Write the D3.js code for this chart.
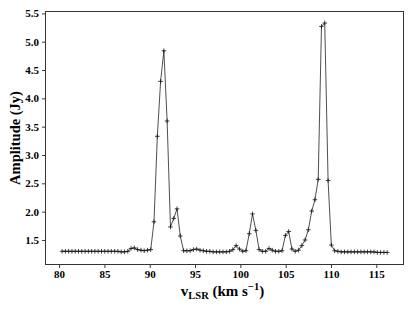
<!DOCTYPE html>
<html>
<head>
<meta charset="utf-8">
<script src="https://cdn.jsdelivr.net/npm/d3@7"></script>
<style>
  html, body { margin: 0; padding: 0; background: #fff; }
  svg { display: block; }
  text { font-family: "Liberation Serif", "Times New Roman", serif; font-weight: bold; fill: #000; }
</style>
</head>
<body>
<div id="chart"></div>
<script>
// Velocity channels (km/s)
const velocity = [
  80.33, 80.69, 81.05, 81.42, 81.78, 82.14, 82.50, 82.87, 83.23, 83.59,
  83.95, 84.31, 84.68, 85.04, 85.40, 85.76, 86.13, 86.49, 86.85, 87.21,
  87.58, 87.94, 88.30, 88.66, 89.03, 89.39, 89.75, 90.11, 90.47, 90.84,
  91.20, 91.56, 91.92, 92.29, 92.65, 93.01, 93.37, 93.74, 94.10, 94.46,
  94.82, 95.18, 95.55, 95.91, 96.27, 96.63, 97.00, 97.36, 97.72, 98.08,
  98.45, 98.81, 99.17, 99.53, 99.90, 100.26, 100.62, 100.98, 101.34, 101.71,
  102.07, 102.43, 102.79, 103.16, 103.52, 103.88, 104.24, 104.60, 104.97, 105.33,
  105.69, 106.05, 106.42, 106.78, 107.14, 107.50, 107.87, 108.23, 108.59, 108.95,
  109.31, 109.68, 110.04, 110.40, 110.76, 111.13, 111.49, 111.85, 112.21, 112.58,
  112.94, 113.30, 113.66, 114.02, 114.39, 114.75, 115.11, 115.47, 115.84, 116.20
];
// Amplitude (Jy)
const amplitude = [
  1.30, 1.30, 1.30, 1.30, 1.30, 1.30, 1.30, 1.30, 1.30, 1.30,
  1.30, 1.30, 1.30, 1.30, 1.30, 1.30, 1.30, 1.30, 1.29, 1.29,
  1.30, 1.35, 1.36, 1.33, 1.32, 1.31, 1.32, 1.33, 1.82, 3.33,
  4.30, 4.84, 3.60, 1.73, 1.88, 2.05, 1.57, 1.31, 1.31, 1.31,
  1.33, 1.34, 1.32, 1.31, 1.30, 1.30, 1.29, 1.29, 1.29, 1.29,
  1.29, 1.30, 1.33, 1.40, 1.34, 1.30, 1.31, 1.61, 1.96, 1.67,
  1.33, 1.30, 1.30, 1.35, 1.32, 1.30, 1.30, 1.31, 1.58, 1.65,
  1.34, 1.30, 1.32, 1.40, 1.50, 1.68, 2.01, 2.21, 2.57, 5.27,
  5.33, 2.55, 1.41, 1.31, 1.30, 1.29, 1.29, 1.29, 1.29, 1.29,
  1.29, 1.29, 1.29, 1.29, 1.29, 1.29, 1.28, 1.28, 1.28, 1.28
];
const xTicks = [80, 85, 90, 95, 100, 105, 110, 115];
const yTicks = [1.5, 2.0, 2.5, 3.0, 3.5, 4.0, 4.5, 5.0, 5.5];
const xDomain = [78.5, 118.0];
const yDomain = [1.067, 5.533];

const W = 415, H = 311;
const frame = { left: 45.5, right: 403.5, top: 11.5, bottom: 264.5 };

const svg = d3.select("#chart").append("svg")
  .attr("width", W).attr("height", H);

const x = d3.scaleLinear().domain(xDomain).range([frame.left, frame.right]);
const y = d3.scaleLinear().domain(yDomain).range([frame.bottom, frame.top]);

// axes
const xAxis = d3.axisBottom(x).tickValues(xTicks).tickFormat(d3.format("d"))
  .tickSize(3.5).tickPadding(2.5);
const yAxis = d3.axisLeft(y).tickValues(yTicks).tickFormat(d3.format(".1f"))
  .tickSize(3.5).tickPadding(3);

const gx = svg.append("g").attr("transform", `translate(0,${frame.bottom})`).call(xAxis);
const gy = svg.append("g").attr("transform", `translate(${frame.left},0)`).call(yAxis);
[gx, gy].forEach(g => {
  g.select(".domain").remove();
  g.selectAll(".tick line").attr("stroke", "#222").attr("stroke-width", 0.9);
  g.selectAll(".tick text").style("font-size", "11px").style("font-family", "'Liberation Serif', serif").style("font-weight", "bold");
});

// frame
svg.append("rect")
  .attr("x", frame.left).attr("y", frame.top)
  .attr("width", frame.right - frame.left).attr("height", frame.bottom - frame.top)
  .attr("fill", "none").attr("stroke", "#333").attr("stroke-width", 1);

// line
const pts = velocity.map((v, i) => [v, amplitude[i]]);
svg.append("path")
  .datum(pts)
  .attr("fill", "none").attr("stroke", "#222").attr("stroke-width", 0.8)
  .attr("d", d3.line().x(d => x(d[0])).y(d => y(d[1])));

// plus markers
const m = 2.3;
svg.append("g").selectAll("path").data(pts).join("path")
  .attr("d", d => {
    const cx = x(d[0]), cy = y(d[1]);
    return `M${cx - m},${cy}H${cx + m}M${cx},${cy - m}V${cy + m}`;
  })
  .attr("stroke", "#111").attr("stroke-width", 0.8).attr("fill", "none");

// x label
const xl = svg.append("text")
  .attr("x", (frame.left + frame.right) / 2 - 2).attr("y", 296)
  .attr("text-anchor", "middle").style("font-size", "15px");
xl.append("tspan").text("v");
xl.append("tspan").attr("dy", 3).style("font-size", "10.5px").text("LSR");
xl.append("tspan").attr("dy", -3).text(" (km s");
xl.append("tspan").attr("dy", -6).style("font-size", "10.5px").text("\u22121");
xl.append("tspan").attr("dy", 6).text(")");

// y label
svg.append("text")
  .attr("transform", `translate(20,${(frame.top + frame.bottom) / 2}) rotate(-90)`)
  .attr("text-anchor", "middle").style("font-size", "14.5px")
  .text("Amplitude (Jy)");
</script>
</body>
</html>
